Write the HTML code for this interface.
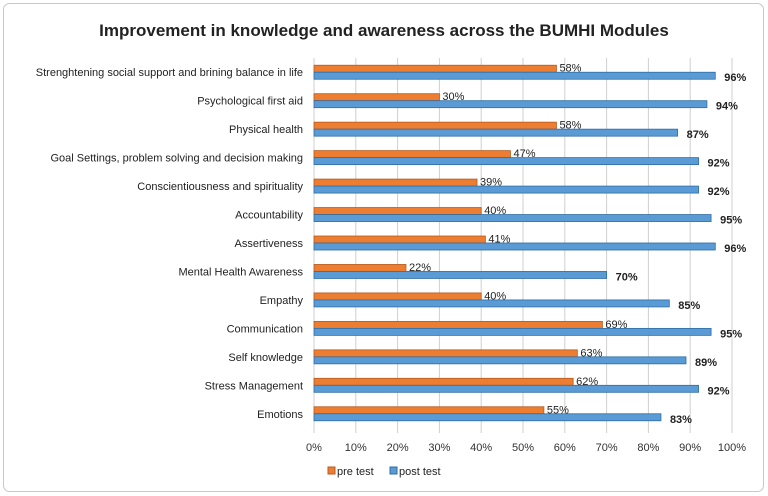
<!DOCTYPE html>
<html><head><meta charset="utf-8"><style>
body{margin:0;background:#fff;font-family:"Liberation Sans",sans-serif;}
#wrap{position:relative;width:768px;height:496px;overflow:hidden;}
</style></head><body>
<div id="wrap">
<svg id="chart" width="768" height="496">
<rect x="3.5" y="3.5" width="760" height="488" rx="6" fill="#fff" stroke="#c8c8c8"/>
<text x="384" y="36" text-anchor="middle" font-size="17" font-weight="bold" fill="#222">Improvement in knowledge and awareness across the BUMHI Modules</text>
<g id="grid"></g><g id="bars"></g><g id="labels"></g>
<g>
<rect x="328" y="467" width="7" height="7" fill="#ED7D31" stroke="#b85a1e"/>
<text x="337" y="475" font-size="11" fill="#222">pre test</text>
<rect x="390" y="467" width="7" height="7" fill="#5B9BD5" stroke="#2e6da4"/>
<text x="399" y="475" font-size="11" fill="#222">post test</text>
</g>
</svg>
</div>
<script>
const categories=["Strenghtening social support and brining balance in life","Psychological first aid","Physical health","Goal Settings, problem solving and decision making","Conscientiousness and spirituality","Accountability","Assertiveness","Mental Health Awareness","Empathy","Communication","Self knowledge","Stress Management","Emotions"];
const preTest=[58,30,58,47,39,40,41,22,40,69,63,62,55];
const postTest=[96,94,87,92,92,95,96,70,85,95,89,92,83];
const xTicks=[0,10,20,30,40,50,60,70,80,90,100];
const NS="http://www.w3.org/2000/svg";
const x0=314,x1=732,plotTop=58,plotBottom=428;
const xs=v=>x0+(x1-x0)*v/100;
const band=(plotBottom-plotTop)/categories.length;
const yc=i=>plotTop+band*(i+0.5);
function mk(tag,attrs,parent){const e=document.createElementNS(NS,tag);for(const k in attrs)e.setAttribute(k,attrs[k]);parent.appendChild(e);return e;}
const grid=document.getElementById('grid'),bars=document.getElementById('bars'),labels=document.getElementById('labels');
xTicks.forEach(t=>{
 const l=mk('line',{x1:xs(t),x2:xs(t),y1:plotTop,y2:plotBottom+5,stroke:'#cfcfcf'},grid);
 
 
 const tx=mk('text',{x:xs(t),y:plotBottom+23,'text-anchor':'middle','font-size':11,fill:'#333'},grid);
 tx.textContent=t+'%';
 
 
});
categories.forEach((c,i)=>{
 const y=yc(i);
 const cl=mk('text',{x:303,y:y+4,'text-anchor':'end','font-size':11,fill:'#222'},labels);
 cl.textContent=c;
 
 
 const b1=mk('rect',{x:x0,y:y-7,width:xs(preTest[i])-x0,height:7,fill:'#ED7D31',stroke:'#b85a1e','stroke-width':0.8},bars);
 
 
 const b2=mk('rect',{x:x0,y:y,width:xs(postTest[i])-x0,height:7,fill:'#5B9BD5',stroke:'#2e6da4','stroke-width':0.8},bars);
 
 
 const l1=mk('text',{x:xs(preTest[i])+3,y:y-0.5,'font-size':11,fill:'#222'},labels);
 l1.textContent=preTest[i]+'%';
 
 
 const l2=mk('text',{x:xs(postTest[i])+9,y:y+9,'font-size':11,'font-weight':'bold',fill:'#222'},labels);
 l2.textContent=postTest[i]+'%';
 
 
});
</script>
</body></html>
